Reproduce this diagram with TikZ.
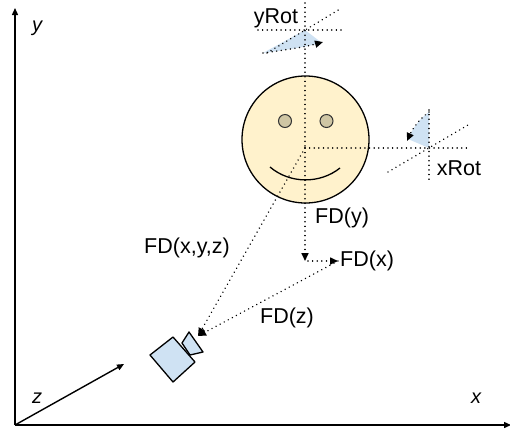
\documentclass[tikz,border=0pt]{standalone}
\usepackage{fontspec}
\setmainfont{Liberation Sans}
\usetikzlibrary{arrows.meta}
\definecolor{facefill}{HTML}{FFF2CC}
\definecolor{eyefill}{HTML}{CFC6A4}
\definecolor{paleblue}{HTML}{CFE2F3}
\tikzset{
  axis/.style={line width=1.4pt, -{Triangle[length=7pt,width=6pt]}},
  dots/.style={line width=1.6pt, dash pattern=on 0.01pt off 4.6pt, line cap=round},
  tip/.style={-{Triangle[length=8pt,width=7pt]}},
  lbl/.style={font=\fontsize{21.5}{23}\selectfont, inner sep=0pt},
  axlbl/.style={font=\fontsize{20}{22}\selectfont\itshape, inner sep=0pt},
  outline/.style={draw=black, line width=1.3pt, line join=round},
}
\begin{document}
\begin{tikzpicture}[x=1pt,y=-1pt]
\useasboundingbox (0,0) rectangle (510,432);

% coordinate axes
\coordinate (origin) at (15,425);
\coordinate (yend) at (15,8);
\coordinate (xend) at (511,425);
\coordinate (zend) at (124,364);
\draw[axis] (origin) -- (yend);
\draw[axis] (origin) -- (xend);
\draw[axis] (origin) -- (zend);
\node[axlbl] (ylabel) at (37,28) {y};
\node[axlbl] (xlabel) at (476,398) {x};
\node[axlbl] (zlabel) at (37,398) {z};

% the face
\node[circle, outline, fill=facefill, minimum size=127pt, inner sep=0pt] (face) at (305.5,139.5) {};
\node[circle, draw=black!80, line width=1pt, fill=eyefill, minimum size=13pt, inner sep=0pt] (leye) at (285,121) {};
\node[circle, draw=black!80, line width=1pt, fill=eyefill, minimum size=13pt, inner sep=0pt] (reye) at (326.5,121) {};
\draw[line width=1.3pt] (270,167) .. controls (290,184) and (320,184) .. (340,168);

% rotation centre of the head
\coordinate (hc) at (305,148);

% yRot gizmo
\coordinate (yc) at (305,30);
\fill[paleblue] (yc) -- (263,53) .. controls (285,50) and (305,47) .. (322,43) -- cycle;
\draw[dots] (305,3) -- (hc);
\draw[dots] (258,30) -- (343,30);
\draw[dots] (267,53) -- (340,9);
\draw[dots, tip] (263,53) .. controls (285,50) and (305,47) .. (323,42);
\node[lbl] (yrot) at (276,18) {yRot};

% xRot gizmo
\coordinate (xc) at (429,148);
\fill[paleblue] (xc) -- (429,112) .. controls (418,120) and (412,130) .. (408,139) -- cycle;
\draw[dots] (hc) -- (470,148);
\draw[dots] (429,110) -- (429,182);
\draw[dots] (388,172) -- (468,125);
\draw[dots, tip] (429,112) .. controls (418,120) and (412,130) .. (407,141);
\node[lbl] (xrot) at (459,168) {xRot};

% camera
\fill[paleblue, outline] (150,355) -- (173,337) -- (195,362) -- (173,382) -- cycle;
\fill[paleblue, outline] (182,343) -- (189,332) -- (203,352) -- (190,355) -- cycle;
\coordinate (cam) at (198,336);

% displacement vectors
\coordinate (fdy) at (305,261);
\coordinate (fdx) at (338,261);
\draw[dots, tip] (hc) -- (fdy);
\draw[dots, tip] (308,261) -- (fdx);
\draw[dots, tip] (fdx) -- (cam);
\draw[dots, tip] (hc) -- (cam);
\node[lbl, anchor=west] (fdylabel) at (315,218) {FD(y)};
\node[lbl, anchor=west] (fdxlabel) at (340,261) {FD(x)};
\node[lbl] (fdzlabel) at (287,318) {FD(z)};
\node[lbl] (fdxyzlabel) at (187,248) {FD(x,y,z)};
\end{tikzpicture}
\end{document}
